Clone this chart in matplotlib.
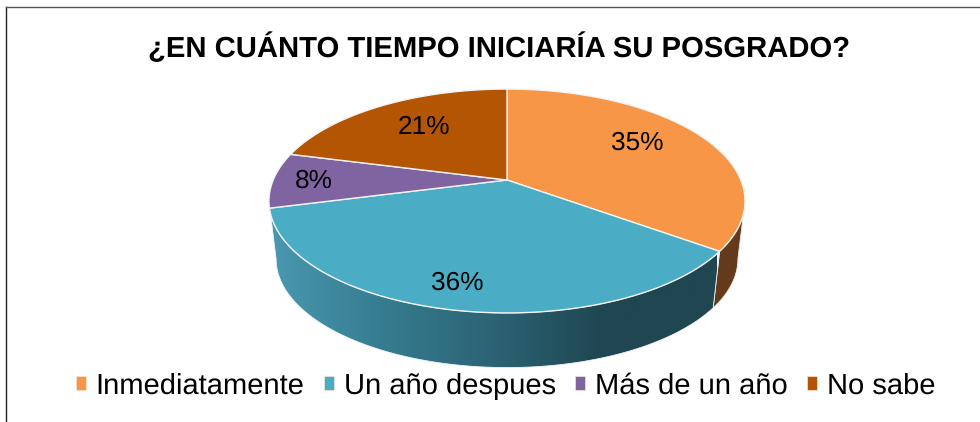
import numpy as np
import matplotlib
matplotlib.use('Agg')
import matplotlib.pyplot as plt
from matplotlib.colors import LinearSegmentedColormap
from matplotlib.patches import Patch, Polygon

title = '¿EN CUÁNTO TIEMPO INICIARÍA SU POSGRADO?'
categories = ['Inmediatamente', 'Un año despues', 'Más de un año', 'No sabe']
values = [35, 36, 8, 21]
colors = ['#F79646', '#4BACC6', '#8064A2', '#B45504']
label_pos = [(637, 143), (457, 283), (314, 181), (424, 127)]

plt.rcParams['font.family'] = ['Liberation Sans', 'DejaVu Sans']
plt.rcParams['text.hinting'] = 'no_hinting'


# circle angle (deg clockwise from top) -> picture position, with perspective
def top_face(deg):
    t = np.radians(deg)
    u, v = np.sin(t), np.cos(t)
    w = 1 + 0.1875 * v
    return 507 + 233.8 * u / w, 180 - 108 * v / w


def bottom_face(deg):
    x, y = top_face(deg)
    return 507 + 0.97 * (x - 507), 201 + 0.97 * (y - 201) + 58


def side_points(a, b):
    deg = np.linspace(a, b, 120)
    tx, ty = top_face(deg)
    bx, by = bottom_face(deg)
    return np.column_stack([np.r_[tx, bx[::-1]], np.r_[ty, by[::-1]]])


fig = plt.figure(figsize=(9.8, 4.22), dpi=100)
ax = fig.add_axes([0, 0, 1, 1])

edges = np.cumsum([0] + values) * 3.6

# side of the pie: orange part is flat dark brown, blue part has a gradient
# the side ends where the top face is widest (cos = -0.1875)
ax.add_patch(Polygon(side_points(100.8, edges[1]), fc='#633A1C', ec='#F2EBE4', lw=0.6, zorder=2))
side_cmap = LinearSegmentedColormap.from_list('side', ['#4A9AB2', '#367D92', '#2C6475', '#1F4651', '#1F4651'])
grad = np.linspace(0, 1, 256).reshape(1, -1)
blue_side = Polygon(side_points(edges[1], 259.2), fc='none', ec='none', transform=ax.transData)
ax.add_patch(blue_side)
im = ax.imshow(grad, cmap=side_cmap, extent=(265, 716, 370, 195), aspect='auto', zorder=2)
im.set_clip_path(blue_side)
ax.add_patch(Polygon(side_points(edges[1], 259.2), fc='none', ec='#EEF4F6', lw=0.6, zorder=3))

# top face
for i, c in enumerate(colors):
    deg = np.linspace(edges[i], edges[i + 1], 100)
    x, y = top_face(deg)
    pts = np.column_stack([np.r_[507, x], np.r_[180, y]])
    ax.add_patch(Polygon(pts, fc=c, ec='#F3F3F3', lw=1.0, zorder=4))

for pos, v in zip(label_pos, values):
    ax.text(pos[0], pos[1], f'{v}%', fontsize=18.9, ha='center', va='center', color='black', zorder=5)

ax.text(499, 48, title, fontsize=21.1, fontweight='bold', ha='center', va='center', color='black')

handles = [Patch(fc=c, ec='#F5E6D8', lw=0.5, label=n) for c, n in zip(colors, categories)]
ax.legend(handles=handles, ncol=4, loc='center', bbox_to_anchor=(505.5, 386), bbox_transform=ax.transData,
          frameon=False, fontsize=21, handlelength=0.345, handleheight=0.345,
          handletextpad=0.345, columnspacing=0.65, borderpad=0, labelspacing=0)

# chart frame, cut off at the right and at the bottom
ax.plot([6, 6], [422, 7], color='#222222', lw=1.0)
ax.plot([6, 980], [7, 7], color='#555555', lw=1.0)

ax.set_xlim(0, 980)
ax.set_ylim(422, 0)
ax.axis('off')

fig.savefig('out.png', dpi=100)
